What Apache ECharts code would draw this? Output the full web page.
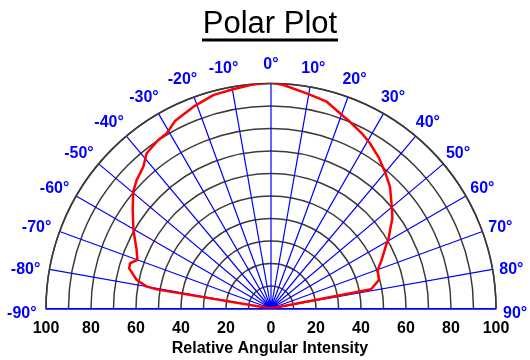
<!DOCTYPE html>
<html>
<head>
<meta charset="utf-8">
<script src="https://cdn.jsdelivr.net/npm/echarts@6/dist/echarts.min.js"></script>
<style>
  html, body { margin: 0; padding: 0; background: #fff; }
  #chart { width: 530px; height: 360px; }
</style>
</head>
<body>
<div id="chart"></div>
<script>
// Measured angular intensity: angle in degrees (0 = on-axis), relative intensity in %
const angles = [-90, -80.5, -80, -78, -74.2, -72.2, -70, -66.5, -60.3, -54.5, -49.7, -46.3, -42,
  -38.7, -33.8, -30.8, -27, -21, -15, -9.8, -5, 0, 3.2, 9.4, 15.1, 20.1, 22.3, 27.4, 30.9, 35.3,
  39.8, 44.3, 49.9, 53.4, 56.6, 59.7, 60.6, 66.3, 70.2, 75.2, 79.1, 90];
const intensity = [0, 51.5, 56, 61, 65.5, 65.8, 63.2, 65.1, 70.4, 75.5, 80.3, 82.6, 84.8,
  88.4, 90.1, 90.6, 93.7, 96.1, 98.3, 98.9, 99.8, 100.5, 99.5, 96.9, 95.2, 91.6, 90.5, 87.7, 85.6, 82.6,
  79.1, 75.7, 70.2, 67.2, 63.4, 60.4, 59, 53.7, 50.4, 49.6, 45.3, 0];

// Angle tick labels around the arc and intensity tick labels along the base
const angleTicks = [-90, -80, -70, -60, -50, -40, -30, -20, -10, 0, 10, 20, 30, 40, 50, 60, 70, 80, 90];
const intensityTicks = [-100, -80, -60, -40, -20, 0, 20, 40, 60, 80, 100];

const CX = 271, CY = 308.5, R = 225;
const BLUE = '#0000ff';
const GRID_DARK = '#3a3a3a';
const LABEL_R = 108.5;

const chart = echarts.init(document.getElementById('chart'), null, { renderer: 'canvas' });

const curve = angles.map((a, i) => [intensity[i], a]);

const angleLabelData = angleTicks.map(a => {
  const f = Math.abs(a) / 90;
  return {
    value: [LABEL_R, a],
    label: { offset: [a < 0 ? -5 : 0, 5 * f * f] }
  };
});

chart.setOption({
  animation: false,
  backgroundColor: '#ffffff',
  graphic: [
    {
      type: 'text',
      x: 270,
      y: 24.5,
      style: {
        text: 'Polar Plot',
        font: '31px "Liberation Sans", Arial, sans-serif',
        fill: '#000',
        align: 'center',
        verticalAlign: 'middle'
      }
    },
    {
      type: 'rect',
      shape: { x: 202, y: 38.5, width: 136, height: 3 },
      style: { fill: '#000' }
    },
    {
      type: 'text',
      x: 270,
      y: 349,
      style: {
        text: 'Relative Angular Intensity',
        font: 'bold 16px "Liberation Sans", Arial, sans-serif',
        fill: '#000',
        align: 'center',
        verticalAlign: 'middle'
      }
    }
  ],
  polar: {
    center: [CX, CY],
    radius: R
  },
  angleAxis: {
    type: 'value',
    min: -90,
    max: 90,
    interval: 10,
    startAngle: 180,
    endAngle: 0,
    clockwise: true,
    axisLine: { show: true, lineStyle: { color: GRID_DARK, width: 1.5 } },
    axisTick: { show: false },
    axisLabel: { show: false },
    splitLine: { show: true, lineStyle: { color: BLUE, width: 1.2 } }
  },
  radiusAxis: {
    type: 'value',
    min: 0,
    max: 100,
    interval: 10,
    axisLine: { show: false },
    axisTick: { show: false },
    axisLabel: { show: false },
    splitLine: { show: true, lineStyle: { color: GRID_DARK, width: 1.5 } }
  },
  grid: {
    left: CX - R,
    right: 530 - (CX + R),
    top: 100,
    bottom: 360 - CY
  },
  xAxis: {
    type: 'value',
    min: -100,
    max: 100,
    interval: 20,
    axisLine: { show: true, lineStyle: { color: BLUE, width: 1.5 } },
    axisTick: { show: false },
    splitLine: { show: false },
    axisLabel: {
      margin: 12,
      color: '#000',
      fontSize: 16,
      fontWeight: 'bold',
      fontFamily: '"Liberation Sans", Arial, sans-serif',
      formatter: v => String(Math.abs(v))
    },
    data: intensityTicks
  },
  yAxis: {
    type: 'value',
    show: false,
    min: 0,
    max: 1
  },
  series: [
    {
      type: 'line',
      coordinateSystem: 'polar',
      data: curve,
      showSymbol: false,
      symbol: 'none',
      smooth: false,
      clip: false,
      lineStyle: { color: '#ff0000', width: 2.5 },
      z: 5
    },
    {
      type: 'scatter',
      coordinateSystem: 'polar',
      data: angleLabelData,
      symbolSize: 0,
      clip: false,
      silent: true,
      itemStyle: { opacity: 1 },
      label: {
        show: true,
        position: 'inside',
        formatter: p => p.value[1] + '°',
        color: BLUE,
        opacity: 1,
        fontSize: 16,
        fontWeight: 'bold',
        fontFamily: '"Liberation Sans", Arial, sans-serif'
      }
    }
  ]
});
</script>
</body>
</html>
